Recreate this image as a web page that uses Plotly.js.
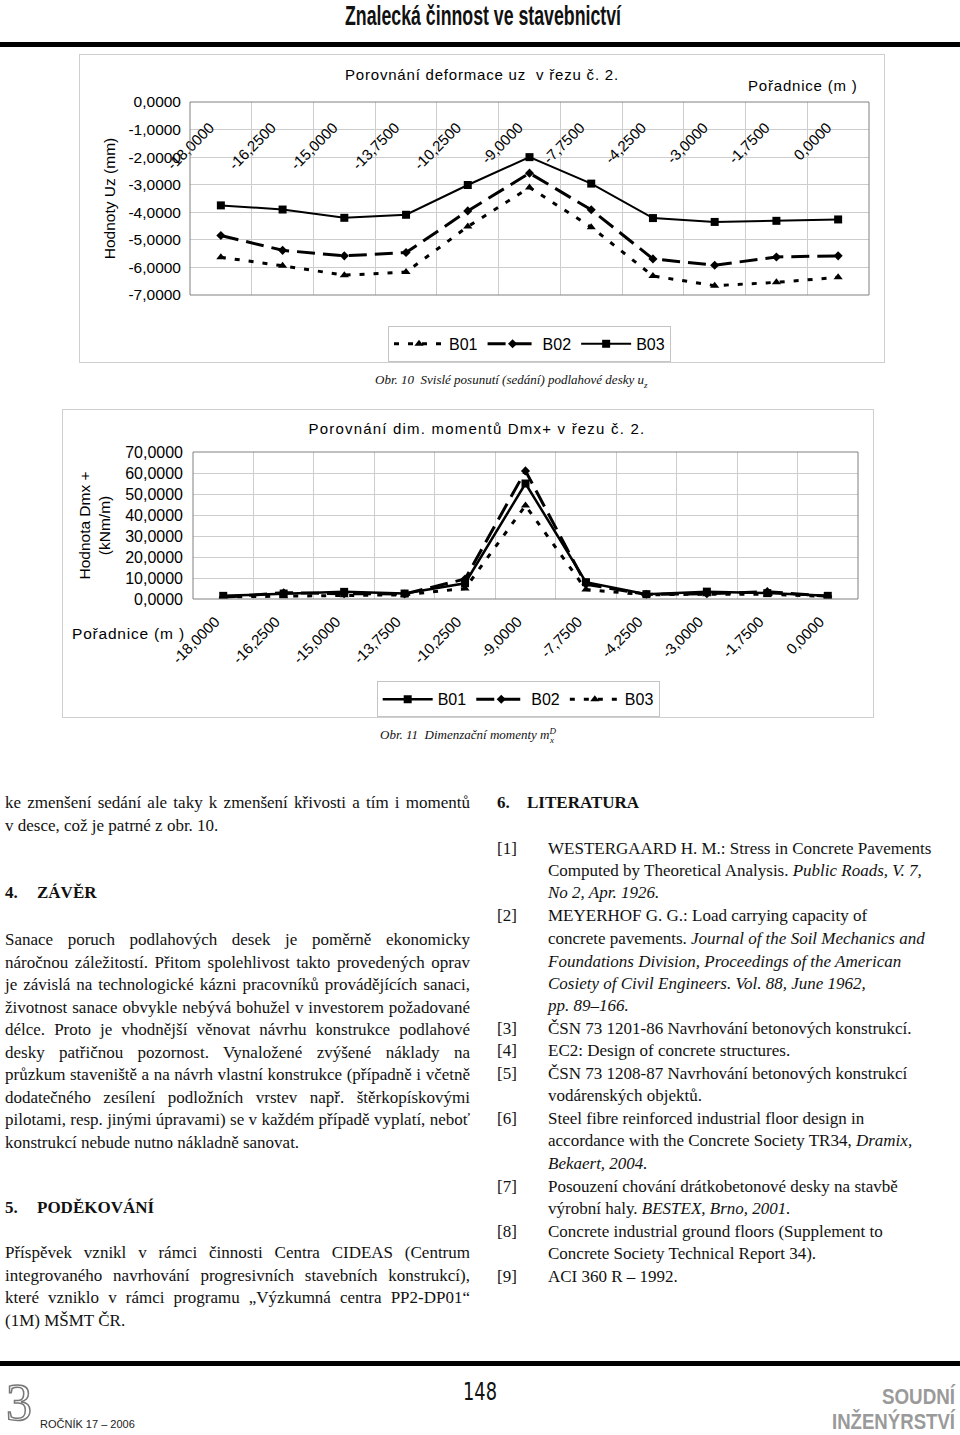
<!DOCTYPE html>
<html>
<head>
<meta charset="utf-8">
<script src="https://cdn.plot.ly/plotly-3.0.1.min.js"></script>
<style>
  html, body { margin:0; padding:0; background:#fff; }
  #page { position:relative; width:960px; height:1435px; overflow:hidden; font-family:"Liberation Serif","Times New Roman",serif; color:#111; }
  .abs { position:absolute; }
  .fit { display:inline-block; transform-origin:0 0; white-space:nowrap; }
  .ln { position:absolute; font-size:17px; line-height:22px; white-space:nowrap; }
  .jl { width:465px; left:5px; text-align:justify; text-align-last:justify; }
  .ll { left:5px; }
  .rn { left:497px; }
  .rt { left:548px; }
  .hd { font-weight:bold; font-size:17px; }
  .cap { position:absolute; font-style:italic; font-size:13px; white-space:nowrap; }
  #chart1 { position:absolute; left:80px; top:55px; width:804px; height:307px; outline:1px solid #cfcfcf; }
  #chart2 { position:absolute; left:63px; top:410px; width:810px; height:307px; outline:1px solid #cfcfcf; }
  #chart1 .gtitle { letter-spacing:0.8px; }
  #chart2 .gtitle { letter-spacing:1.2px; }
  .annotation-text { letter-spacing:0.8px; }
</style>
</head>
<body>
<div id="page">
  <div class="abs fit" data-w="276" style="left:345px;top:0px;font-family:'Liberation Sans',sans-serif;font-weight:bold;font-size:27px;line-height:32px;">Znalecká činnost ve stavebnictví</div>
  <div class="abs" style="left:0;top:42px;width:960px;height:5px;background:#000;"></div>

  <div id="chart1"></div>
  <div class="cap" style="left:375px;top:372px;">Obr. 10&nbsp; Svislé posunutí (sedání) podlahové desky u<sub style="font-size:9px;">z</sub></div>

  <div id="chart2"></div>
  <div class="cap" style="left:380px;top:726px;">Obr. 11&nbsp; Dimenzační momenty m<sup style="font-size:9px;">D</sup><sub style="font-size:9px;margin-left:-6px;">x</sub></div>

  <!-- left column -->
  <div class="ln jl" style="top:792px;">ke zmenšení sedání ale taky k zmenšení křivosti a tím i momentů</div>
  <div class="ln ll" style="top:815px;">v desce, což je patrné z obr. 10.</div>
  <div class="ln hd" style="left:5px;top:882px;">4.</div>
  <div class="ln hd" style="left:37px;top:882px;">ZÁVĚR</div>
  <div class="ln jl" style="top:929px;">Sanace poruch podlahových desek je poměrně ekonomicky</div>
  <div class="ln jl" style="top:952px;">náročnou záležitostí. Přitom spolehlivost takto provedených oprav</div>
  <div class="ln jl" style="top:974px;">je závislá na technologické kázni pracovníků provádějících sanaci,</div>
  <div class="ln jl" style="top:997px;">životnost sanace obvykle nebývá bohužel v investorem požadované</div>
  <div class="ln jl" style="top:1019px;">délce. Proto je vhodnější věnovat návrhu konstrukce podlahové</div>
  <div class="ln jl" style="top:1042px;">desky patřičnou pozornost. Vynaložené zvýšené náklady na</div>
  <div class="ln jl" style="top:1064px;">průzkum staveniště a na návrh vlastní konstrukce (případně i včetně</div>
  <div class="ln jl" style="top:1087px;">dodatečného zesílení podložních vrstev např. štěrkopískovými</div>
  <div class="ln jl" style="top:1109px;">pilotami, resp. jinými úpravami) se v každém případě vyplatí, neboť</div>
  <div class="ln ll" style="top:1132px;">konstrukcí nebude nutno nákladně sanovat.</div>
  <div class="ln hd" style="left:5px;top:1197px;">5.</div>
  <div class="ln hd" style="left:37px;top:1197px;">PODĚKOVÁNÍ</div>
  <div class="ln jl" style="top:1242px;">Příspěvek vznikl v rámci činnosti Centra CIDEAS (Centrum</div>
  <div class="ln jl" style="top:1265px;">integrovaného navrhování progresivních stavebních konstrukcí),</div>
  <div class="ln jl" style="top:1287px;">které vzniklo v rámci programu „Výzkumná centra PP2-DP01“</div>
  <div class="ln ll" style="top:1310px;">(1M) MŠMT ČR.</div>

  <!-- right column -->
  <div class="ln hd" style="left:497px;top:792px;">6.</div>
  <div class="ln hd" style="left:527px;top:792px;">LITERATURA</div>
  <div class="ln rn" style="top:838px;">[1]</div>
  <div class="ln rt" style="top:838px;">WESTERGAARD H. M.: Stress in Concrete Pavements</div>
  <div class="ln rt" style="top:860px;">Computed by Theoretical Analysis. <i>Public Roads, V. 7,</i></div>
  <div class="ln rt" style="top:882px;"><i>No 2, Apr. 1926.</i></div>
  <div class="ln rn" style="top:905px;">[2]</div>
  <div class="ln rt" style="top:905px;">MEYERHOF G. G.: Load carrying capacity of</div>
  <div class="ln rt" style="top:928px;">concrete pavements. <i>Journal of the Soil Mechanics and</i></div>
  <div class="ln rt" style="top:951px;"><i>Foundations Division, Proceedings of the American</i></div>
  <div class="ln rt" style="top:973px;"><i>Cosiety of Civil Engineers. Vol. 88, June 1962,</i></div>
  <div class="ln rt" style="top:995px;"><i>pp. 89–166.</i></div>
  <div class="ln rn" style="top:1018px;">[3]</div>
  <div class="ln rt" style="top:1018px;">ČSN 73 1201-86 Navrhování betonových konstrukcí.</div>
  <div class="ln rn" style="top:1040px;">[4]</div>
  <div class="ln rt" style="top:1040px;">EC2: Design of concrete structures.</div>
  <div class="ln rn" style="top:1063px;">[5]</div>
  <div class="ln rt" style="top:1063px;">ČSN 73 1208-87 Navrhování betonových konstrukcí</div>
  <div class="ln rt" style="top:1085px;">vodárenských objektů.</div>
  <div class="ln rn" style="top:1108px;">[6]</div>
  <div class="ln rt" style="top:1108px;">Steel fibre reinforced industrial floor design in</div>
  <div class="ln rt" style="top:1130px;">accordance with the Concrete Society TR34, <i>Dramix,</i></div>
  <div class="ln rt" style="top:1153px;"><i>Bekaert, 2004.</i></div>
  <div class="ln rn" style="top:1176px;">[7]</div>
  <div class="ln rt" style="top:1176px;">Posouzení chování drátkobetonové desky na stavbě</div>
  <div class="ln rt" style="top:1198px;">výrobní haly. <i>BESTEX, Brno, 2001.</i></div>
  <div class="ln rn" style="top:1221px;">[8]</div>
  <div class="ln rt" style="top:1221px;">Concrete industrial ground floors (Supplement to</div>
  <div class="ln rt" style="top:1243px;">Concrete Society Technical Report 34).</div>
  <div class="ln rn" style="top:1266px;">[9]</div>
  <div class="ln rt" style="top:1266px;">ACI 360 R – 1992.</div>

  <!-- footer -->
  <div class="abs" style="left:0;top:1361px;width:960px;height:5px;background:#000;"></div>
  <div class="abs" style="left:6px;top:1376px;font-family:'Liberation Serif',serif;font-size:52px;line-height:54px;color:#fff;-webkit-text-stroke:1.5px #777;">3</div>
  <div class="abs" style="left:40px;top:1418px;font-family:'Liberation Sans',sans-serif;font-size:11px;line-height:13px;color:#222;">ROČNÍK 17 – 2006</div>
  <div class="abs fit" data-w="34" style="left:463px;top:1378px;font-family:'DejaVu Sans','Liberation Sans',sans-serif;font-size:24px;line-height:28px;color:#111;">148</div>
  <div class="abs fit" data-w="73" style="left:882px;top:1386px;font-family:'Liberation Sans',sans-serif;font-weight:bold;font-size:22px;line-height:22px;color:#9a9a9a;">SOUDNÍ</div>
  <div class="abs fit" data-w="123" style="left:832px;top:1411px;font-family:'Liberation Sans',sans-serif;font-weight:bold;font-size:22px;line-height:22px;color:#9a9a9a;">INŽENÝRSTVÍ</div>
</div>

<script>
// fit condensed display texts to their printed widths
document.querySelectorAll('.fit').forEach(function (el) {
  var w = el.getBoundingClientRect().width;
  var target = parseFloat(el.getAttribute('data-w'));
  el.style.transform = 'scaleX(' + (target / w) + ')';
});

// ---- data ----
var xCategories = ['-18,0000','-16,2500','-15,0000','-13,7500','-10,2500','-9,0000','-7,7500','-4,2500','-3,0000','-1,7500','0,0000'];
var seriesNames = ['B01','B02','B03'];

// Obr. 10 – vertical displacement uz (mm)
var uzB01 = [-5.63,-5.94,-6.28,-6.17,-4.52,-3.10,-4.54,-6.31,-6.66,-6.54,-6.36];
var uzB02 = [-4.84,-5.38,-5.58,-5.46,-3.95,-2.58,-3.91,-5.69,-5.92,-5.62,-5.58];
var uzB03 = [-3.75,-3.90,-4.20,-4.09,-3.01,-2.00,-2.96,-4.21,-4.35,-4.31,-4.26];
var uzTickVals = [0,-1,-2,-3,-4,-5,-6,-7];
var uzTickText = ['0,0000','-1,0000','-2,0000','-3,0000','-4,0000','-5,0000','-6,0000','-7,0000'];

// Obr. 11 – design moments Dmx+ (kNm/m)
var dmB01 = [1.5,2.6,3.4,2.6,7.5,55.0,8.0,2.3,3.5,2.8,1.5];
var dmB02 = [0.8,3.0,2.5,2.4,9.5,61.0,7.0,2.2,2.5,3.5,1.3];
var dmB03 = [1.0,1.3,1.8,2.0,5.0,44.5,4.5,2.0,2.3,2.2,1.2];
var dmTickVals = [0,10,20,30,40,50,60,70];
var dmTickText = ['0,0000','10,0000','20,0000','30,0000','40,0000','50,0000','60,0000','70,0000'];

// ---- styles ----
var FONT = 'Liberation Sans, Arial, sans-serif';
var GRID = '#cdcdcd';
var FRAME = '#808080';
var styles = {
  B01: {line:{color:'#000', width:3, dash:'5px,9px'}, marker:{symbol:'triangle-up', size:8, color:'#000'}},
  B02: {line:{color:'#000', width:3, dash:'18px,8px'}, marker:{symbol:'diamond', size:7, color:'#000'}},
  B03: {line:{color:'#000', width:2}, marker:{symbol:'square', size:8, color:'#000'}}
};
function tr(name, y) {
  return {type:'scatter', mode:'lines+markers', name:name, x:xCategories, y:y,
          line:styles[name].line, marker:styles[name].marker};
}
var frameShape = {type:'rect', xref:'paper', yref:'paper', x0:0, x1:1, y0:0, y1:1,
                  line:{color:FRAME, width:1}, fillcolor:'rgba(0,0,0,0)', layer:'above'};

// ---- chart 1 ----
var layout1 = {
  width:804, height:307,
  margin:{l:110, r:15, t:47, b:67, autoexpand:false},
  paper_bgcolor:'#fff', plot_bgcolor:'#fff',
  font:{family:FONT, size:14, color:'#000'},
  showlegend:true,
  title:{text:'Porovnání deformace uz  v řezu č. 2.', font:{family:FONT, size:15}, x:0.5, xref:'container', y:0.935, yref:'container', xanchor:'center', yanchor:'middle'},
  xaxis:{type:'category', range:[-0.5,10.5], anchor:'free', position:1, side:'bottom',
         tickson:'boundaries', ticks:'', showgrid:true, gridcolor:GRID, gridwidth:1,
         tickangle:-45, tickfont:{family:FONT, size:15}, ticklabelstandoff:13, ticklabelshift:-11,
         showline:false, zeroline:false, automargin:false},
  yaxis:{range:[-7,0], tickvals:uzTickVals, ticktext:uzTickText, showgrid:true, gridcolor:GRID,
         ticks:'', showline:false, zeroline:false, tickfont:{family:FONT, size:15.5}, ticklabelstandoff:8,
         automargin:false,
         title:{text:'Hodnoty Uz (mm)', font:{family:FONT, size:15.5}, standoff:8}},
  legend:{orientation:'h', x:0.5, xanchor:'center', y:-0.16, yanchor:'top', itemwidth:50,
          bordercolor:'#c4c4c4', borderwidth:1, font:{family:FONT, size:16}, traceorder:'normal'},
  shapes:[frameShape],
  annotations:[{xref:'paper', yref:'paper', x:0.987, y:1.088, xanchor:'right', yanchor:'middle',
                text:'Pořadnice (m )', showarrow:false, font:{family:FONT, size:15}}]
};
Plotly.newPlot('chart1', [tr('B01',uzB01), tr('B02',uzB02), tr('B03',uzB03)], layout1, {displayModeBar:false, staticPlot:true});

// ---- chart 2 ----
var styles2 = {
  B01: {line:{color:'#000', width:2.5}, marker:{symbol:'square', size:8, color:'#000'}},
  B02: {line:{color:'#000', width:3, dash:'18px,8px'}, marker:{symbol:'diamond', size:7, color:'#000'}},
  B03: {line:{color:'#000', width:3, dash:'5px,9px'}, marker:{symbol:'triangle-up', size:8, color:'#000'}}
};
function tr2(name, y) {
  return {type:'scatter', mode:'lines+markers', name:name, x:xCategories, y:y,
          line:styles2[name].line, marker:styles2[name].marker};
}
var layout2 = {
  width:810, height:307,
  margin:{l:130, r:15, t:42, b:118, autoexpand:false},
  paper_bgcolor:'#fff', plot_bgcolor:'#fff',
  font:{family:FONT, size:14, color:'#000'},
  showlegend:true,
  title:{text:'Porovnání dim. momentů Dmx+ v řezu č. 2.', font:{family:FONT, size:15}, x:0.511, xref:'container', y:0.94, yref:'container', xanchor:'center', yanchor:'middle'},
  xaxis:{type:'category', range:[-0.5,10.5], tickson:'boundaries', ticks:'', showgrid:true, gridcolor:GRID,
         tickangle:-45, tickfont:{family:FONT, size:15}, ticklabelstandoff:10, ticklabelshift:-8,
         showline:false, zeroline:false, automargin:false},
  yaxis:{range:[0,70], tickvals:dmTickVals, ticktext:dmTickText, showgrid:true, gridcolor:GRID,
         ticks:'', showline:false, zeroline:false, tickfont:{family:FONT, size:16}, ticklabelstandoff:9,
         automargin:false,
         title:{text:'Hodnota Dmx +<br>(kNm/m)', font:{family:FONT, size:15.5}, standoff:10}},
  legend:{orientation:'h', x:0.489, xanchor:'center', y:-0.56, yanchor:'top', itemwidth:50,
          bordercolor:'#c4c4c4', borderwidth:1, font:{family:FONT, size:16}, traceorder:'normal'},
  shapes:[frameShape],
  annotations:[{xref:'paper', yref:'paper', x:-0.185, y:-0.238, xanchor:'left', yanchor:'middle',
                text:'Pořadnice (m )', showarrow:false, font:{family:FONT, size:15.5}}]
};
Plotly.newPlot('chart2', [tr2('B01',dmB01), tr2('B02',dmB02), tr2('B03',dmB03)], layout2, {displayModeBar:false, staticPlot:true});
</script>
</body>
</html>
